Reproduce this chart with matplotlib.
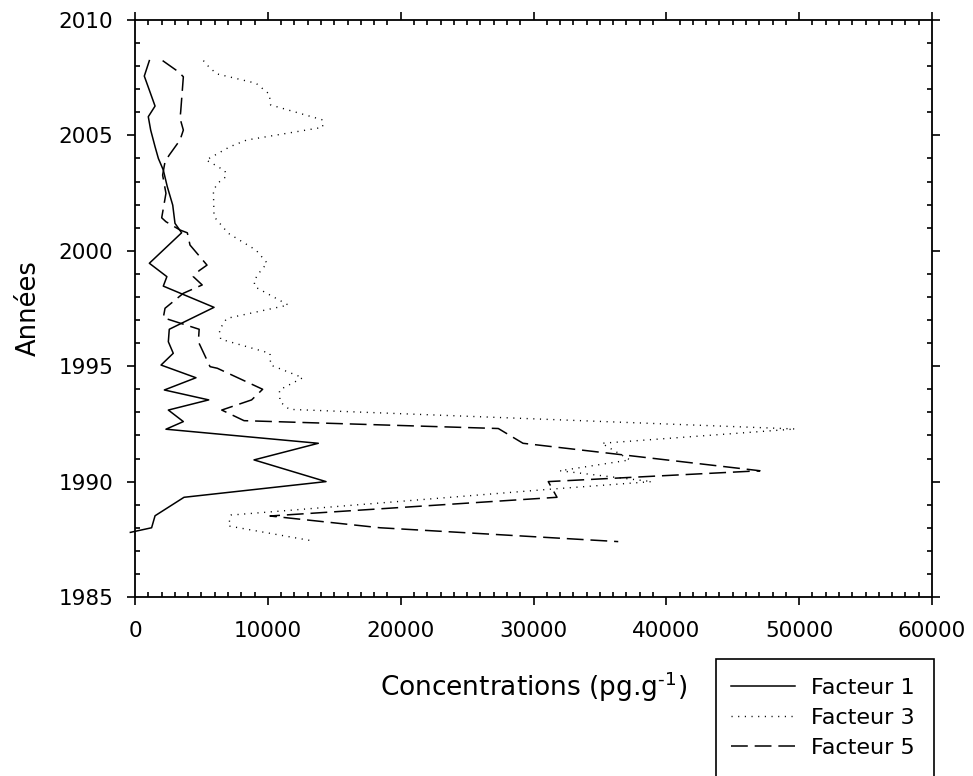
import matplotlib.pyplot as plt
from matplotlib.patches import Rectangle
from matplotlib.ticker import MultipleLocator

# Facteur 1 (solid)
years_f1 = [2008.24, 2007.57, 2006.27, 2005.81, 2005.23, 2004.51, 2004.0, 2003.5,
            2002.78, 2001.98, 2001.19, 2000.78, 1999.46, 1998.88, 1998.47, 1997.55,
            1996.6, 1996.06, 1995.56, 1995.05, 1994.5, 1993.97, 1993.54, 1993.1,
            1992.6, 1992.27, 1991.66, 1990.94, 1990.0, 1989.32, 1988.52, 1988.0,
            1987.8]
conc_f1 = [1080, 700, 1510, 1000, 1180, 1510, 1760, 2130,
           2430, 2840, 3010, 3510, 1080, 2400, 2130, 5950,
           2580, 2510, 2880, 1960, 4590, 2210, 5550, 2510,
           3640, 2330, 13800, 8960, 14380, 3690, 1510, 1250,
           -350]

# Facteur 3 (dotted)
years_f3 = [2008.24, 2007.91, 2007.66, 2007.26, 2007.0, 2006.79, 2006.32, 2005.67,
            2005.35, 2004.8, 2004.51, 2003.93, 2003.76, 2003.46, 2003.21, 2002.95,
            2002.63, 2001.48, 2000.76, 2000.03, 1999.46, 1999.2, 1998.71, 1998.44,
            1997.65, 1997.07, 1996.57, 1996.17, 1995.56, 1995.05, 1994.5, 1993.97,
            1993.46, 1993.13, 1992.28, 1991.66, 1990.94, 1990.47, 1990.0, 1989.67,
            1988.55, 1988.08, 1987.43]
conc_f3 = [5150, 5650, 6200, 9110, 9660, 10110, 10210, 14130,
           14130, 8410, 7150, 5350, 5900, 6780, 6850, 6270,
           5900, 5950, 7020, 9110, 9960, 9540, 8960, 9030,
           11540, 6900, 6350, 6450, 10160, 10210, 12630, 10870,
           10920, 11620, 49700, 35130, 37260, 31990, 38900, 31240,
           7230, 7020, 13380]

# Facteur 5 (dashed)
years_f5 = [2008.24, 2007.76, 2007.54, 2006.03, 2005.74, 2005.23, 2004.8, 2004.15,
            2003.86, 2003.28, 2002.49, 2001.43, 2001.26, 2000.9, 2000.78, 2000.25,
            1999.38, 1999.14, 1998.88, 1998.52, 1998.16, 1997.51, 1997.1, 1996.6,
            1996.06, 1994.98, 1994.91, 1994.0, 1993.54, 1993.1, 1992.64, 1992.3,
            1991.66, 1990.47, 1990.0, 1989.32, 1988.51, 1988.0, 1987.4]
conc_f5 = [2080, 3260, 3640, 3440, 3390, 3640, 3390, 2580,
           2260, 2080, 2330, 2010, 2330, 3390, 3940, 4140,
           5420, 4830, 4390, 5060, 3640, 2260, 2130, 4830,
           4770, 5650, 6200, 9610, 8780, 6530, 8210, 27350,
           29210, 47050, 31110, 31770, 10160, 18450, 36380]

plt.rcParams['font.family'] = 'DejaVu Sans'

fig = plt.figure(figsize=(9.73, 7.76), dpi=100)
ax = fig.add_axes([135 / 973, 1 - 597 / 776, 797 / 973, 577 / 776])

ax.plot(conc_f1, years_f1, color='black', lw=1.1, ls='-', label='Facteur 1',
        clip_on=False)
ax.plot(conc_f3, years_f3, color='black', lw=1.0, ls=(0, (0.8, 4)),
        label='Facteur 3')
ax.plot(conc_f5, years_f5, color='black', lw=1.1, ls=(0, (11, 4.5)),
        label='Facteur 5')

ax.set_xlim(0, 60000)
ax.set_ylim(1985, 2010)
ax.xaxis.set_major_locator(MultipleLocator(10000))
ax.xaxis.set_minor_locator(MultipleLocator(1000))
ax.yaxis.set_major_locator(MultipleLocator(5))
ax.yaxis.set_minor_locator(MultipleLocator(1))
ax.tick_params(which='major', direction='out', length=6, width=1.2,
               top=True, right=True, labelsize=15.5)
ax.tick_params(axis='x', which='major', pad=11.5)
ax.tick_params(axis='y', which='major', pad=9.5)
ax.tick_params(which='minor', direction='in', length=3.5, width=1.2,
               top=True, right=True)
for s in ax.spines.values():
    s.set_linewidth(1.3)

ax.set_xlabel('Concentrations (pg.g$^{\\mathregular{\u2010 1}}$)'.replace(' 1', '1'),
              fontsize=19, labelpad=20)
ax.set_ylabel('Années', fontsize=18.5, labelpad=12)

# legend box runs off the bottom edge of the figure
fig.patches.append(Rectangle((716 / 973, -0.02), 218 / 973, 0.02 + 117 / 776,
                             transform=fig.transFigure, fill=False,
                             edgecolor='black', lw=1.2))
fig.legend(loc='upper left', bbox_to_anchor=(731 / 973, 1 - 678 / 776),
           frameon=False, fontsize=16, borderpad=0, borderaxespad=0,
           handlelength=2.9, handletextpad=0.7, labelspacing=0.45)

fig.savefig('out.png', dpi=100)
